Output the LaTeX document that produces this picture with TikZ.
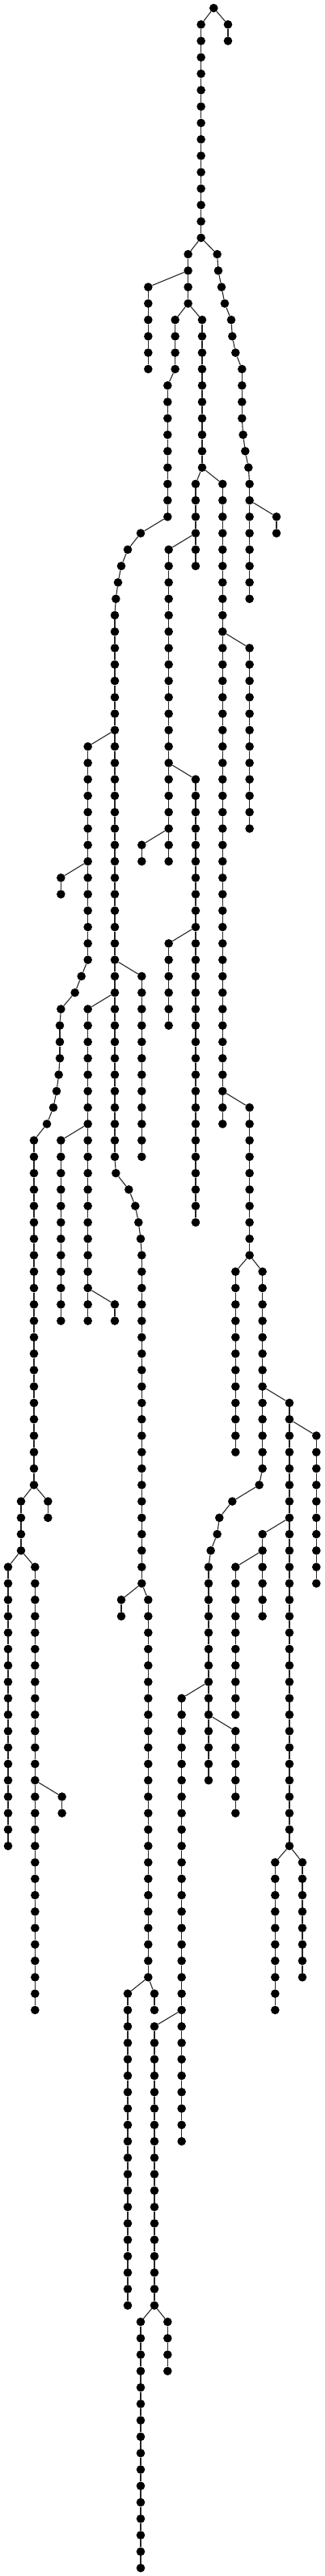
\documentclass[tikz,border=0pt]{standalone}
\tikzset{
  dot/.style={circle,fill=black,draw=none,inner sep=0pt,minimum size=10.6pt},
  edge/.style={draw=black!85,line width=1.1pt}
}
\newcommand\myvch[4]{%
  \foreach \rr in {#3,...,#4}{\node[dot] (#1-\rr) at (#2,\rr) {};}%
  \pgfmathtruncatemacro\vchnext{#3+1}%
  \foreach \rr [remember=\rr as \pp (initially #3)] in {\vchnext,...,#4}{\draw[edge] (#1-\pp) -- (#1-\rr);}%
}
\newcommand\mychain[2]{%
  \foreach \xx/\rr [count=\ii, remember=\rr as \pp (initially 0)] in {#2}{%
    \node[dot] (#1-\rr) at (\xx,\rr) {};
    \ifnum\ii>1 \draw[edge] (#1-\pp) -- (#1-\rr);\fi}%
}
\begin{document}
\begin{tikzpicture}[x=0.33333pt,y=-20.27pt]
\fill[white] (0,-0.4933) rectangle (1206,156.49);
\useasboundingbox (0,-0.4933) rectangle (1206,156.49);
% root
\node[dot] (R) at (793,0) {};
\myvch{RR}{846}{1}{2}
\draw[edge] (R) -- (RR-1);
\myvch{T}{746}{1}{14}
\draw[edge] (R) -- (T-1);
\myvch{B}{698}{15}{18}
\draw[edge] (T-14) -- (B-15);
% right curvy chain
\mychain{Rt}{806/15,810/16,822/17,834/18,858/19,862/20,874/21}
\myvch{Rt}{898}{22}{25}
\mychain{Rt}{902/26,910/27,922/28}
\myvch{Rt}{926}{29}{36}
\draw[edge] (T-14) -- (Rt-15);
\draw[edge] (Rt-21) -- (Rt-22);
\draw[edge] (Rt-25) -- (Rt-26);
\draw[edge] (Rt-28) -- (Rt-29);
\myvch{Rt2}{1026}{31}{32}
\draw[edge] (Rt-30) -- (Rt2-31);
% left
\myvch{C}{550}{17}{22}
\draw[edge] (B-16) -- (C-17);
\myvch{D}{650}{19}{22}
\myvch{D}{622}{23}{31}
\mychain{D}{522/32,474/33,450/34,438/35,430/36}
\myvch{D}{426}{37}{70}
\mychain{D}{430/71,478/72,502/73,514/74,522/75}
\myvch{D}{526}{76}{96}
\draw[edge] (B-18) -- (D-19);
\draw[edge] (D-22) -- (D-23);
\draw[edge] (D-31) -- (D-32);
\draw[edge] (D-36) -- (D-37);
\draw[edge] (D-70) -- (D-71);
\draw[edge] (D-75) -- (D-76);
% middle
\myvch{E}{750}{19}{28}
\draw[edge] (B-18) -- (E-19);
\myvch{Ea}{726}{29}{34}
\draw[edge] (E-28) -- (Ea-29);
\myvch{Eb}{826}{29}{68}
\draw[edge] (E-28) -- (Eb-29);
\myvch{S}{626}{33}{52}
\draw[edge] (Ea-32) -- (S-33);
\myvch{Sa}{726}{47}{74}
\draw[edge] (S-46) -- (Sa-47);
\myvch{Sb}{526}{51}{52}
\draw[edge] (S-50) -- (Sb-51);
\myvch{Sc}{626}{57}{62}
\draw[edge] (Sa-56) -- (Sc-57);
\myvch{U}{926}{39}{50}
\draw[edge] (Eb-38) -- (U-39);
\myvch{V}{926}{67}{76}
\draw[edge] (Eb-66) -- (V-67);
\myvch{W}{874}{77}{88}
\draw[edge] (V-76) -- (W-77);
\myvch{X}{974}{77}{89}
\mychain{X}{962/90,862/91,814/92,806/93,782/94}
\myvch{X}{774}{95}{108}
\draw[edge] (V-76) -- (X-77);
\draw[edge] (X-89) -- (X-90);
\draw[edge] (X-94) -- (X-95);
\myvch{Y}{1074}{85}{112}
\draw[edge] (X-84) -- (Y-85);
\myvch{Ya}{1174}{87}{96}
\draw[edge] (Y-86) -- (Ya-87);
\myvch{Yb}{974}{93}{98}
\draw[edge] (Y-92) -- (Yb-93);
\myvch{Yc}{874}{95}{104}
\draw[edge] (Yb-94) -- (Yc-95);
\myvch{Yd}{1021}{113}{122}
\draw[edge] (Y-112) -- (Yd-113);
\myvch{Ye}{1122}{113}{120}
\draw[edge] (Y-112) -- (Ye-113);
\myvch{Z}{674}{103}{130}
\draw[edge] (X-102) -- (Z-103);
\myvch{Za}{874}{105}{110}
\draw[edge] (X-104) -- (Za-105);
\myvch{Zb}{573}{123}{140}
\draw[edge] (Z-122) -- (Zb-123);
\myvch{Zc}{522}{141}{156}
\draw[edge] (Zb-140) -- (Zc-141);
\myvch{Zd}{622}{141}{144}
\draw[edge] (Zb-140) -- (Zd-141);
% far left
\myvch{F}{326}{45}{58}
\mychain{F}{302/59,278/60,226/61,222/62,222/63,222/64,218/65,210/66,198/67,174/68}
\myvch{F}{126}{69}{90}
\draw[edge] (D-44) -- (F-45);
\draw[edge] (F-58) -- (F-59);
\draw[edge] (F-68) -- (F-69);
\myvch{Fa}{226}{53}{54}
\draw[edge] (F-52) -- (Fa-53);
\myvch{K}{78}{91}{94}
\draw[edge] (F-90) -- (K-91);
\myvch{Ka}{178}{91}{92}
\draw[edge] (F-90) -- (Ka-91);
\myvch{M}{30}{95}{112}
\draw[edge] (K-94) -- (M-95);
\myvch{N}{130}{95}{122}
\draw[edge] (K-94) -- (N-95);
\myvch{Na}{230}{109}{110}
\draw[edge] (N-108) -- (Na-109);
\myvch{G}{526}{59}{70}
\draw[edge] (D-58) -- (G-59);
\myvch{H}{326}{61}{80}
\draw[edge] (D-60) -- (H-61);
\myvch{Ha}{226}{69}{80}
\draw[edge] (H-68) -- (Ha-69);
\myvch{Hb}{426}{79}{80}
\draw[edge] (H-78) -- (Hb-79);
\myvch{I}{450}{97}{98}
\draw[edge] (D-96) -- (I-97);
\myvch{J}{550}{97}{120}
\draw[edge] (D-96) -- (J-97);
\myvch{P}{474}{121}{140}
\draw[edge] (J-120) -- (P-121);
\myvch{Q}{573}{121}{122}
\draw[edge] (J-120) -- (Q-121);
\end{tikzpicture}
\end{document}
